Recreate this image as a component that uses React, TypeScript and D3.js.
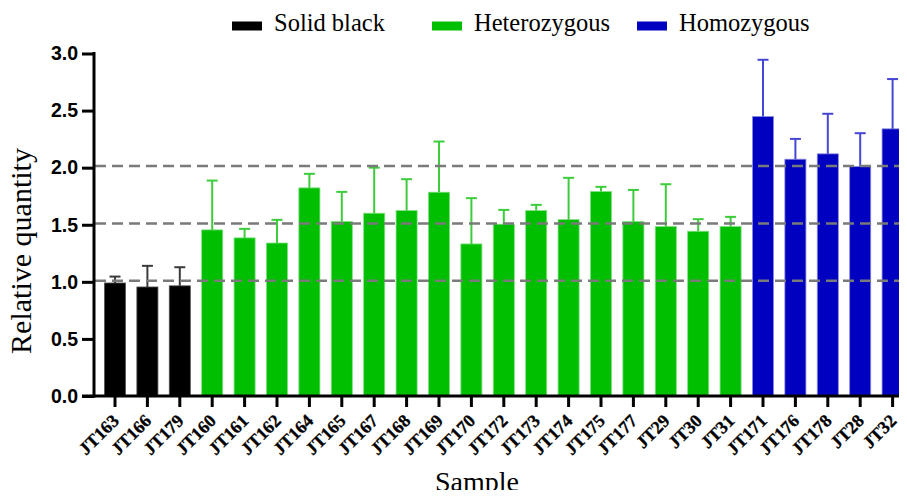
import React, { useRef, useEffect } from "react";
import * as d3 from "d3";

// sample names, grouped by genotype
const solidBlack = ["JT163", "JT166", "JT179"];
const heterozygous = [
  "JT160", "JT161", "JT162", "JT164", "JT165", "JT167", "JT168", "JT169", "JT170",
  "JT172", "JT173", "JT174", "JT175", "JT177", "JT29", "JT30", "JT31",
];
const homozygous = ["JT171", "JT176", "JT178", "JT28", "JT32"];

// mean relative quantity per sample (same order as above)
const solidMeans = [0.99, 0.955, 0.965];
const hetMeans = [
  1.455, 1.385, 1.34, 1.823, 1.528, 1.601, 1.624, 1.785, 1.332,
  1.505, 1.624, 1.545, 1.791, 1.528, 1.484, 1.443, 1.484,
];
const homMeans = [2.448, 2.074, 2.121, 2.01, 2.34];

// top of the upper error bar
const solidErr = [1.046, 1.14, 1.128];
const hetErr = [
  1.887, 1.464, 1.543, 1.946, 1.788, 2.0, 1.899, 2.229, 1.733,
  1.63, 1.674, 1.911, 1.832, 1.805, 1.855, 1.549, 1.569,
];
const homErr = [2.945, 2.252, 2.472, 2.302, 2.776];

const yTicks = [0, 0.5, 1.0, 1.5, 2.0, 2.5, 3.0];
const refLines = [1.01, 1.51, 2.015];

const groups = [
  { name: "Solid black", samples: solidBlack, means: solidMeans, err: solidErr, fill: "#000000", errColor: "#3a3a3a", edge: "#555555" },
  { name: "Heterozygous", samples: heterozygous, means: hetMeans, err: hetErr, fill: "#00BF00", errColor: "#3ccc3c", edge: "#7fe07f" },
  { name: "Homozygous", samples: homozygous, means: homMeans, err: homErr, fill: "#0000C0", errColor: "#4646d6", edge: "#8a8ae0" },
];

function App() {
  const svgRef = useRef<SVGSVGElement>(null);

  useEffect(() => {
    const w = 907;
    const h = 498;
    const svg = d3.select(svgRef.current).attr("width", w).attr("height", h);
    svg.selectAll("*").remove();

    const rows = groups.flatMap((g) =>
      g.samples.map((s, i) => ({ sample: s, mean: g.means[i], err: g.err[i], g }))
    );

    const xScale = d3
      .scaleBand<string>()
      .domain(rows.map((d) => d.sample))
      .range([98.8, 98.8 + rows.length * 32.4])
      .paddingInner(0.35)
      .paddingOuter(0.175);
    const yScale = d3.scaleLinear().domain([0, 3]).range([396, 53.5]);

    // bars
    svg
      .append("g")
      .selectAll("rect")
      .data(rows)
      .enter()
      .append("rect")
      .attr("x", (d) => xScale(d.sample)!)
      .attr("y", (d) => yScale(d.mean))
      .attr("width", xScale.bandwidth())
      .attr("height", (d) => yScale(0) - yScale(d.mean))
      .attr("fill", (d) => d.g.fill)
      .attr("stroke", (d) => d.g.edge)
      .attr("stroke-width", 0.8);

    // upper error bars
    const eb = svg.append("g").selectAll("g").data(rows).enter().append("g");
    eb.append("line")
      .attr("x1", (d) => xScale(d.sample)! + xScale.bandwidth() / 2)
      .attr("x2", (d) => xScale(d.sample)! + xScale.bandwidth() / 2)
      .attr("y1", (d) => yScale(d.mean))
      .attr("y2", (d) => yScale(d.err))
      .attr("stroke", (d) => d.g.errColor)
      .attr("stroke-width", 2);
    eb.append("line")
      .attr("x1", (d) => xScale(d.sample)! + xScale.bandwidth() / 2 - 5.5)
      .attr("x2", (d) => xScale(d.sample)! + xScale.bandwidth() / 2 + 5.5)
      .attr("y1", (d) => yScale(d.err))
      .attr("y2", (d) => yScale(d.err))
      .attr("stroke", (d) => d.g.errColor)
      .attr("stroke-width", 2);

    // dashed reference lines
    svg
      .append("g")
      .selectAll("line")
      .data(refLines)
      .enter()
      .append("line")
      .attr("x1", 95)
      .attr("x2", 907)
      .attr("y1", (d) => yScale(d))
      .attr("y2", (d) => yScale(d))
      .attr("stroke", "#7a7a7a")
      .attr("stroke-width", 2.5)
      .attr("stroke-dasharray", "11 6");

    // y axis
    const yAxis = d3
      .axisLeft(yScale)
      .tickValues(yTicks)
      .tickFormat(d3.format(".1f"))
      .tickSize(12)
      .tickPadding(4);
    const gy = svg.append("g").attr("transform", "translate(94,0)").call(yAxis);
    gy.select(".domain").attr("stroke-width", 3).attr("d", "M0,52V397.5");
    gy.selectAll(".tick line").attr("stroke-width", 3);
    gy.selectAll("text")
      .attr("font-family", "Liberation Sans, Arial, sans-serif")
      .attr("font-weight", "bold")
      .attr("font-size", 19.5)
      .attr("fill", "#000");

    // x axis
    const xAxis = d3.axisBottom(xScale).tickSize(11).tickPadding(3);
    const gx = svg.append("g").attr("transform", "translate(0,396)").call(xAxis);
    gx.select(".domain").attr("stroke-width", 3).attr("d", "M82,0H907");
    gx.selectAll(".tick line").attr("stroke-width", 3);
    gx.selectAll("text")
      .attr("font-family", "Liberation Serif, Times New Roman, serif")
      .attr("font-weight", "bold")
      .attr("font-size", 18)
      .attr("fill", "#000")
      .attr("stroke", "#000")
      .attr("stroke-width", 0.3)
      .attr("text-anchor", "end")
      .attr("y", 0)
      .attr("dy", 0)
      .attr("transform", "translate(5,26) rotate(-45)");

    // axis titles
    svg.append("text")
      .attr("x", 477)
      .attr("y", 491)
      .attr("text-anchor", "middle")
      .attr("font-family", "Liberation Serif, Times New Roman, serif")
      .attr("font-size", 28)
      .text("Sample");
    svg.append("text")
      .attr("transform", "translate(31,251) rotate(-90)")
      .attr("text-anchor", "middle")
      .attr("font-family", "Liberation Serif, Times New Roman, serif")
      .attr("font-size", 30)
      .text("Relative quantity");

    // legend
    const legendX = [232, 432, 637];
    const lg = svg
      .append("g")
      .selectAll("g")
      .data(groups)
      .enter()
      .append("g")
      .attr("transform", (d, i) => `translate(${legendX[i]},0)`);
    lg.append("rect")
      .attr("x", 0)
      .attr("y", 21.5)
      .attr("width", 30)
      .attr("height", 9)
      .attr("fill", (d) => d.fill);
    lg.append("text")
      .attr("x", 42)
      .attr("y", 31)
      .attr("font-family", "Liberation Serif, Times New Roman, serif")
      .attr("font-size", 24.5)
      .text((d) => d.name);
  }, []);

  return (
    <div style={{ margin: -8 }}>
      <svg ref={svgRef} style={{ display: "block" }}></svg>
    </div>
  );
}

export default App;
